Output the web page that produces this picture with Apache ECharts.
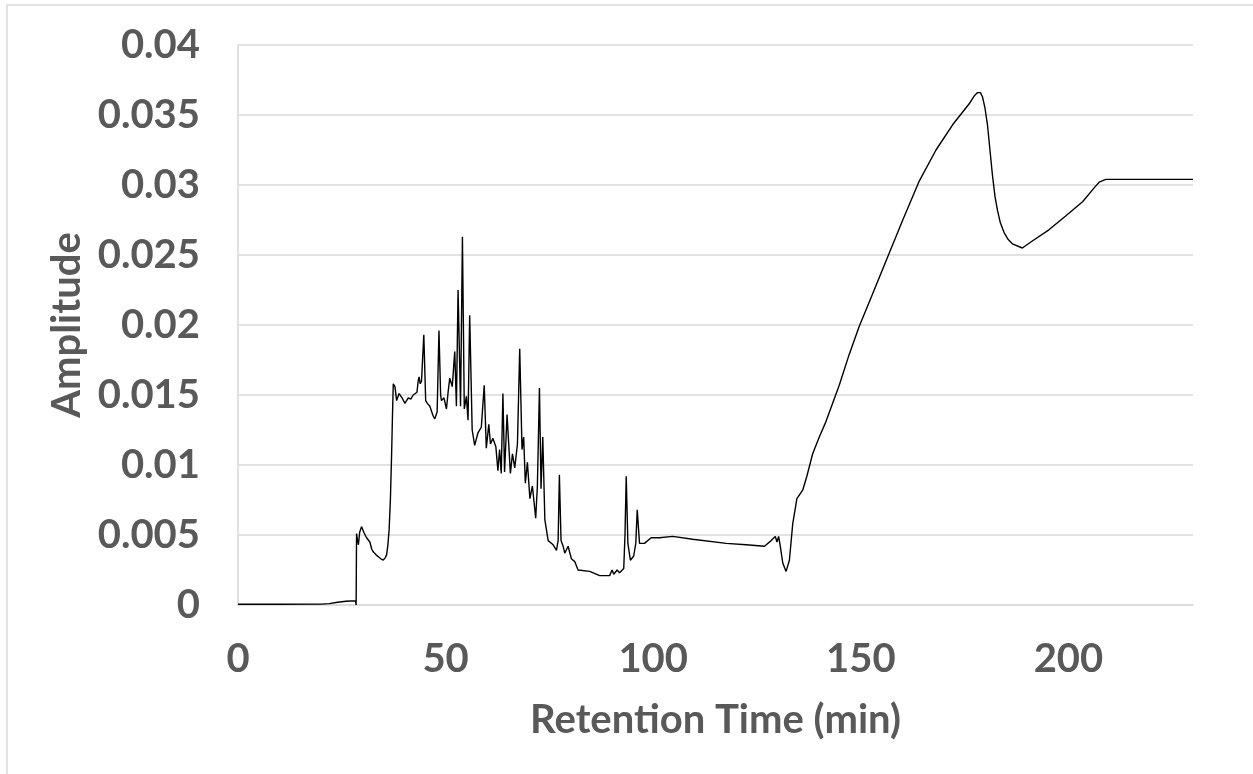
<!DOCTYPE html>
<html>
<head>
<meta charset="utf-8">
<script src="https://cdn.jsdelivr.net/npm/echarts@6/dist/echarts.min.js"></script>
<style>
html,body{margin:0;padding:0;background:#fff;}
#chart{width:1253px;height:774px;}
</style>
</head>
<body>
<div id="chart"></div>
<script>
// Retention time (min)
const times = [
  0, 10, 20, 22, 24, 26, 28.3, 28.45, 28.55, 28.8, 29.0, 29.3, 29.75, 30.3, 30.96, 31.4, 31.76, 32.2, 32.56, 33.2,
  33.8, 34.4, 35.0, 35.5, 35.8, 36.1, 36.4, 36.7, 37.0, 37.2, 37.4, 37.8, 38.2, 38.8, 39.5, 40.2, 41.0, 41.6, 42.2, 43.1,
  43.4, 43.6, 43.9, 44.2, 44.75, 45.2, 45.6, 46.2, 47.0, 47.4, 47.96, 48.4, 48.8, 49.0, 49.6, 50.2, 50.6, 51.0, 51.6, 52.2,
  52.6, 53.0, 53.6, 54.05, 54.5, 55.0, 55.4, 55.8, 56.4, 57.0, 57.8, 58.6, 59.3, 59.8, 60.4, 60.8, 61.4, 62.1, 62.6, 63.0,
  63.4, 63.8, 64.2, 64.8, 65.6, 66.1, 66.65, 67.3, 67.85, 68.4, 68.8, 69.2, 69.7, 70.3, 70.9, 71.7, 72.1, 72.6, 72.98, 73.4,
  73.9, 74.7, 75.9, 76.7, 77.1, 77.4, 77.8, 78.3, 78.7, 79.5, 80.3, 81.1, 81.9, 84.7, 87.1, 89.5, 90.1, 90.5, 91.3, 91.9,
  92.9, 93.2, 93.5, 93.9, 94.5, 95.3, 95.8, 96.15, 96.7, 97.9, 99.5, 101.5, 104.7, 109.5, 117.6, 122.4, 126.8, 128.4, 129.4, 129.8,
  130.2, 130.6, 131.2, 132.0, 132.8, 133.6, 134.6, 136.0, 137.0, 138.4, 140.0, 141.6, 144.8, 147.2, 149.6, 152.8, 156.8, 160.1, 164.1, 168.1, 172.1,
  176.1, 177.4, 178.1, 178.8, 179.3, 179.9, 180.5, 181.1, 181.7, 182.3, 182.9, 183.6, 184.5, 185.5, 186.5, 188.9, 191.3, 195.3, 199.4, 203.4,
  206.5, 207.4, 209, 230
];
// Amplitude
const amplitudes = [
  0.00005, 0.00005, 0.00006, 0.0001, 0.0002, 0.00027, 0.0003, 0.0, 0.0051, 0.0046, 0.0043, 0.0052, 0.0056, 0.0052, 0.0048, 0.0047, 0.0045, 0.0040, 0.0038, 0.0036,
  0.00345, 0.0033, 0.0032, 0.0034, 0.0036, 0.0043, 0.0054, 0.0075, 0.0108, 0.0135, 0.0158, 0.0156, 0.0146, 0.0151, 0.0148, 0.0144, 0.0148, 0.0147, 0.0150, 0.0152,
  0.0160, 0.0163, 0.0158, 0.0160, 0.0193, 0.0146, 0.0144, 0.0142, 0.0135, 0.0133, 0.0138, 0.0196, 0.0150, 0.0146, 0.0148, 0.0140, 0.0152, 0.0162, 0.0156, 0.0181,
  0.0142, 0.0225, 0.0142, 0.0263, 0.0140, 0.0149, 0.0132, 0.0207, 0.0125, 0.0114, 0.0123, 0.0127, 0.0157, 0.0112, 0.0129, 0.0115, 0.0119, 0.0113, 0.0096, 0.0111,
  0.0094, 0.0151, 0.0095, 0.0136, 0.0094, 0.0108, 0.0098, 0.0115, 0.0183, 0.0111, 0.0120, 0.0087, 0.0102, 0.0076, 0.0085, 0.0062, 0.0085, 0.0155, 0.0083, 0.0120,
  0.0061, 0.0046, 0.0043, 0.0039, 0.0046, 0.0093, 0.0046, 0.0042, 0.0037, 0.0042, 0.0033, 0.0031, 0.0025, 0.0024, 0.0021, 0.0021, 0.0025, 0.0022, 0.0025, 0.0023,
  0.0026, 0.0050, 0.0092, 0.0044, 0.0032, 0.0035, 0.0044, 0.0068, 0.0044, 0.0044, 0.0048, 0.0048, 0.0049, 0.0047, 0.0044, 0.0043, 0.0042, 0.0046, 0.0049, 0.0045,
  0.0049, 0.0042, 0.0030, 0.0024, 0.0032, 0.0058, 0.0076, 0.0082, 0.0092, 0.0108, 0.0120, 0.0131, 0.0157, 0.0179, 0.0199, 0.0222, 0.0251, 0.0275, 0.0303, 0.0325, 0.0343,
  0.0358, 0.0364, 0.0366, 0.0366, 0.0363, 0.0355, 0.0343, 0.0325, 0.0307, 0.0292, 0.0282, 0.0273, 0.0266, 0.0261, 0.0258, 0.0255, 0.0260, 0.0268, 0.0278, 0.0288,
  0.0299, 0.0302, 0.0304, 0.0304
];
const xTickLabels = ['0', '50', '100', '150', '200'];
const yTickLabels = ['0', '0.005', '0.01', '0.015', '0.02', '0.025', '0.03', '0.035', '0.04'];
const xTitle = 'Retention Time (min)';
const yTitle = 'Amplitude';

const FONT = 'Lato';
const GREY = '#595959';
const FS = 40;
const chart = echarts.init(document.getElementById('chart'), null, {renderer: 'canvas'});
chart.setOption({
  animation: false,
  backgroundColor: '#ffffff',
  graphic: [{
    type: 'rect',
    shape: {x: 7, y: 5, width: 1400, height: 900},
    style: {fill: 'none', stroke: '#d9d9d9', lineWidth: 1.5},
    silent: true
  }],
  grid: {left: 238, right: 60, top: 45, bottom: 169, containLabel: false},
  xAxis: {
    type: 'value', min: 0, max: 230, interval: 50,
    name: xTitle, nameLocation: 'middle', nameGap: 95,
    nameTextStyle: {fontFamily: FONT, fontWeight: 'bold', fontSize: FS, color: GREY},
    axisLine: {show: true, lineStyle: {color: '#d9d9d9', width: 1.5}},
    axisTick: {show: false},
    splitLine: {show: false},
    axisLabel: {
      showMaxLabel: false, margin: 34,
      fontFamily: FONT, fontWeight: 'bold', fontSize: FS, color: GREY,
      formatter: v => { const i = Math.round(v / 50); return (Math.abs(v - i * 50) < 1e-6 && xTickLabels[i] !== undefined) ? xTickLabels[i] : ''; }
    }
  },
  yAxis: {
    type: 'value', min: 0, max: 0.04, interval: 0.005,
    name: yTitle, nameLocation: 'middle', nameGap: 149, nameRotate: 90,
    nameTextStyle: {fontFamily: FONT, fontWeight: 'bold', fontSize: FS, color: GREY},
    axisLine: {show: true, lineStyle: {color: '#d9d9d9', width: 1.5}},
    axisTick: {show: false},
    splitLine: {show: true, lineStyle: {color: '#d9d9d9', width: 1.5}},
    axisLabel: {
      margin: 38,
      fontFamily: FONT, fontWeight: 'bold', fontSize: FS, color: GREY,
      formatter: v => { const i = Math.round(v / 0.005); return yTickLabels[i] !== undefined ? yTickLabels[i] : ''; }
    }
  },
  series: [{
    type: 'line',
    data: times.map((t, i) => [t, amplitudes[i]]),
    showSymbol: false,
    symbol: 'none',
    lineStyle: {color: '#000000', width: 1.4},
    z: 5
  }]
});
</script>
</body>
</html>
